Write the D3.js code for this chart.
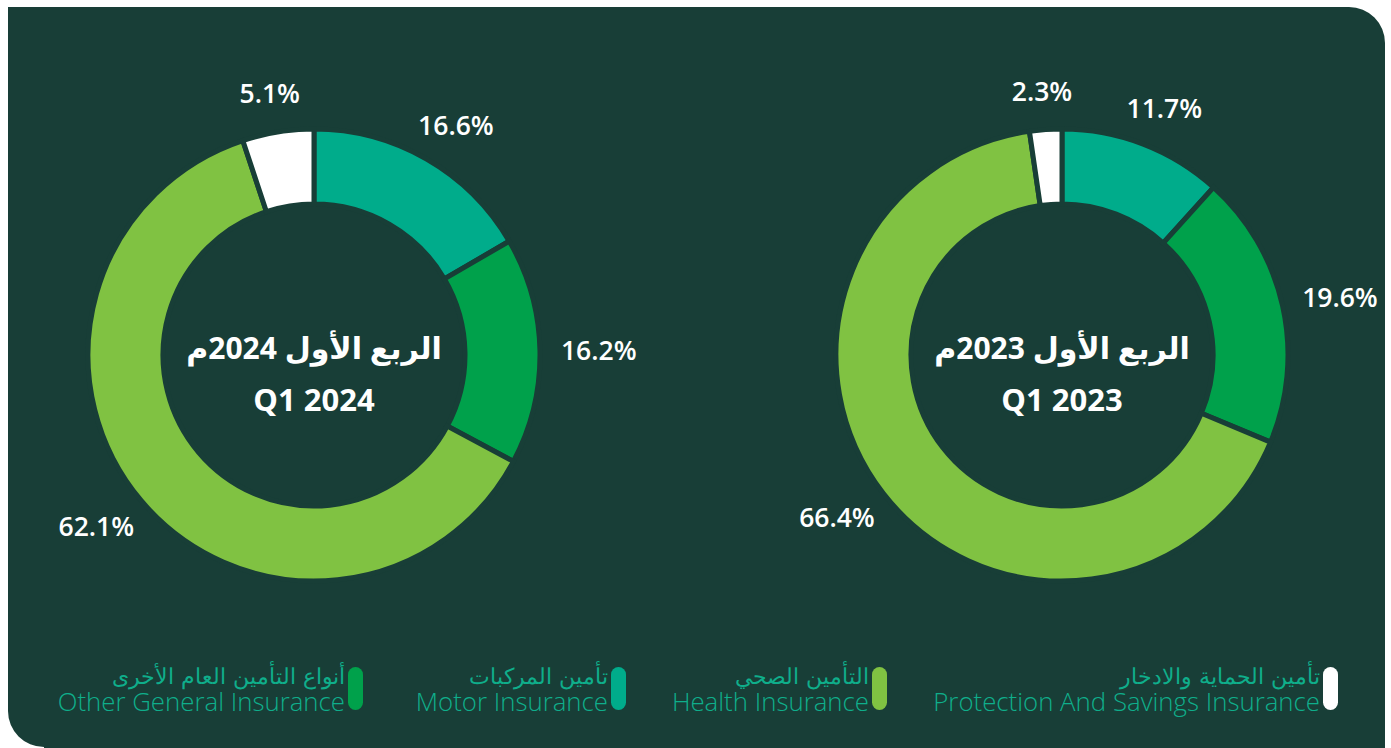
<!DOCTYPE html>
<html>
<head>
<meta charset="utf-8">
<script src="https://cdn.jsdelivr.net/npm/d3@7"></script>
<style>
  html, body { margin: 0; padding: 0; background: #ffffff; }
  svg { display: block; }
</style>
</head>
<body>
<svg id="chart" width="1391" height="748"></svg>
<script>
// ---- Data ----
const categories = ["Motor Insurance", "Other General Insurance", "Health Insurance", "Protection And Savings Insurance"];
const categoriesAr = ["تأمين المركبات", "أنواع التأمين العام الأخرى", "التأمين الصحي", "تأمين الحماية والادخار"];
const values2024 = [16.6, 16.2, 62.1, 5.1];
const values2023 = [11.7, 19.6, 66.4, 2.3];
const titlesAr = ["الربع الأول 2024م", "الربع الأول 2023م"];
const titlesEn = ["Q1 2024", "Q1 2023"];
const legendOrder = [1, 0, 2, 3]; // left-to-right legend order (indices into categories)

// ---- Styles ----
const colors = ["#00ac8b", "#00a14b", "#80c242", "#ffffff"];
const bg = "#183e37";
const legendText = "#0fae8b";

const svg = d3.select("#chart");
const W = 1391, H = 748;

// Background panel: square top-left / bottom-right, rounded top-right / bottom-left
const x0 = 8, y0 = 7, x1 = 1385, y1 = 747, rc = 36;
svg.append("path")
  .attr("d", `M${x0},${y0} H${x1 - rc} A${rc},${rc} 0 0 1 ${x1},${y0 + rc} V${H} H${x0 + rc} ` +
             `V${y1} H${x0 + rc} A${rc},${rc} 0 0 1 ${x0},${y1 - rc} Z`)
  .attr("fill", bg);

const pie = d3.pie().sort(null).value(d => d);
const rOuter = 226, rInner = 151;
const arc = d3.arc().innerRadius(rInner).outerRadius(rOuter);
const labelR = 247;

const charts = [
  { cx: 314, cy: 355, values: values2024, ar: titlesAr[0], en: titlesEn[0] },
  { cx: 1062, cy: 355, values: values2023, ar: titlesAr[1], en: titlesEn[1] }
];

charts.forEach(c => {
  const g = svg.append("g").attr("transform", `translate(${c.cx},${c.cy})`);
  const arcs = pie(c.values);
  g.selectAll("path.slice").data(arcs).enter().append("path")
    .attr("class", "slice")
    .attr("d", arc)
    .attr("fill", (d, i) => colors[i])
    .attr("stroke", bg)
    .attr("stroke-width", 5)
    .attr("stroke-linejoin", "miter");

  // percentage labels
  arcs.forEach((d, i) => {
    const a = (d.startAngle + d.endAngle) / 2;
    const t = g.append("text")
      .attr("fill", "#ffffff")
      .attr("font-family", "'Open Sans', 'Noto Sans', sans-serif")
      .attr("font-weight", 600)
      .attr("font-size", 26.5)
      .attr("text-anchor", "middle")
      .attr("dominant-baseline", "central")
      .text(d3.format(".1f")(d.data) + "%");
    const bb = t.node().getBBox();
    const px = Math.sin(a) * labelR + Math.sin(a) * bb.width / 2;
    const py = -Math.cos(a) * labelR - Math.cos(a) * bb.height / 2;
    t.attr("x", px).attr("y", py);
  });

  // center titles
  g.append("text")
    .attr("x", 0).attr("y", 4)
    .attr("text-anchor", "middle")
    .attr("direction", "rtl")
    .attr("fill", "#ffffff")
    .attr("font-family", "'Noto Sans', 'DejaVu Sans', sans-serif")
    .attr("font-weight", 700)
    .attr("font-size", 30)
    .text(c.ar);
  g.append("text")
    .attr("x", 0).attr("y", 56)
    .attr("text-anchor", "middle")
    .attr("fill", "#ffffff")
    .attr("font-family", "'Open Sans', 'Noto Sans', sans-serif")
    .attr("font-weight", 700)
    .attr("font-size", 31)
    .text(c.en);
});

// ---- Legend ----
const legendPos = { 1: 348, 0: 611, 2: 872, 3: 1323 };
const lg = svg.append("g");
legendOrder.forEach(i => {
  const x = legendPos[i];
  lg.append("rect")
    .attr("x", x).attr("y", 667)
    .attr("width", 15).attr("height", 43)
    .attr("rx", 7.5).attr("ry", 7.5)
    .attr("fill", colors[i]);
  lg.append("text")
    .attr("x", x - 3).attr("y", 684)
    .attr("text-anchor", "end")
    .attr("fill", legendText)
    .attr("font-family", "'DejaVu Sans', 'Noto Sans', sans-serif")
    .attr("font-weight", 300)
    .attr("font-size", 21.5)
    .text(categoriesAr[i]);
  lg.append("text")
    .attr("x", x - 3).attr("y", 711)
    .attr("text-anchor", "end")
    .attr("fill", legendText)
    .attr("font-family", "'Open Sans', 'Noto Sans', sans-serif")
    .attr("font-weight", 300)
    .attr("font-size", 25.8)
    .text(categories[i]);
});
</script>
</body>
</html>
